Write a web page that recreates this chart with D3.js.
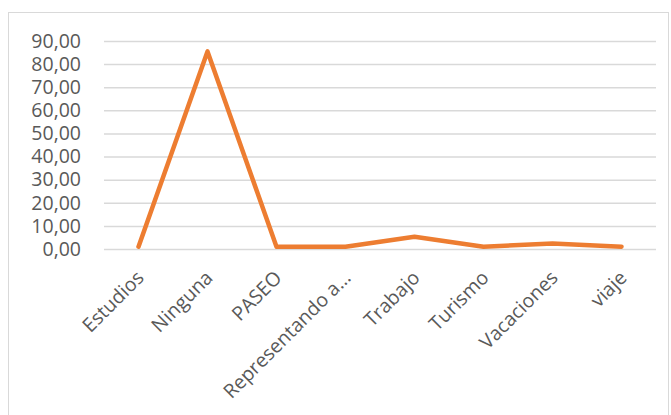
<!DOCTYPE html>
<html><head><meta charset="utf-8">
<script src="https://cdn.jsdelivr.net/npm/d3@7"></script>
<style>body{margin:0;background:#fff;} svg{display:block;}</style>
</head><body>
<script>
const categories = ["Estudios","Ninguna","PASEO","Representando a…","Trabajo","Turismo","Vacaciones","viaje"];
const values = [1.0, 85.5, 1.0, 1.0, 5.3, 1.0, 2.4, 1.0];
const yTicks = [0,10,20,30,40,50,60,70,80,90];

(function(){
const W = 671, H = 415;
const svg = d3.select("body").append("svg").attr("width", W).attr("height", H);
svg.append("rect").attr("x",8.5).attr("y",12.5).attr("width",660).attr("height",410)
  .attr("fill","#fff").attr("stroke","#d9d9d9").attr("stroke-width",1);

const mL = 104, mR = 656, mT = 41, mB = 249;
const x = d3.scalePoint().domain(categories).range([mL, mR]).padding(0.5);
const y = d3.scaleLinear().domain([0,90]).range([mB, mT]);

const fmt = d => d3.format(".2f")(d).replace(".", ",");

const gy = svg.append("g").attr("transform",`translate(${mL},0)`)
  .call(d3.axisLeft(y).tickValues(yTicks).tickSize(-(mR-mL)).tickFormat(fmt).tickPadding(23));
gy.select(".domain").remove();
gy.selectAll(".tick line").attr("stroke","#d9d9d9").attr("stroke-width",1.5);
gy.selectAll(".tick text").attr("fill","#595959").style("font-family","Open Sans").style("font-size","19.5px");

const gx = svg.append("g").attr("transform",`translate(0,${mB})`)
  .call(d3.axisBottom(x).tickSize(0));
gx.select(".domain").remove();
gx.selectAll(".tick text")
  .attr("fill","#595959").style("font-family","Open Sans").style("font-size","19.5px")
  .attr("text-anchor","end").attr("dy",null).attr("y",0)
  .attr("transform","translate(6,30) rotate(-45)");

const line = d3.line().x((d,i)=>x(categories[i])).y(d=>y(d));
svg.append("path").datum(values).attr("d",line).attr("fill","none")
  .attr("stroke","#ED7D31").attr("stroke-width",4.5).attr("stroke-linejoin","round").attr("stroke-linecap","round");
})();
</script>
</body></html>
